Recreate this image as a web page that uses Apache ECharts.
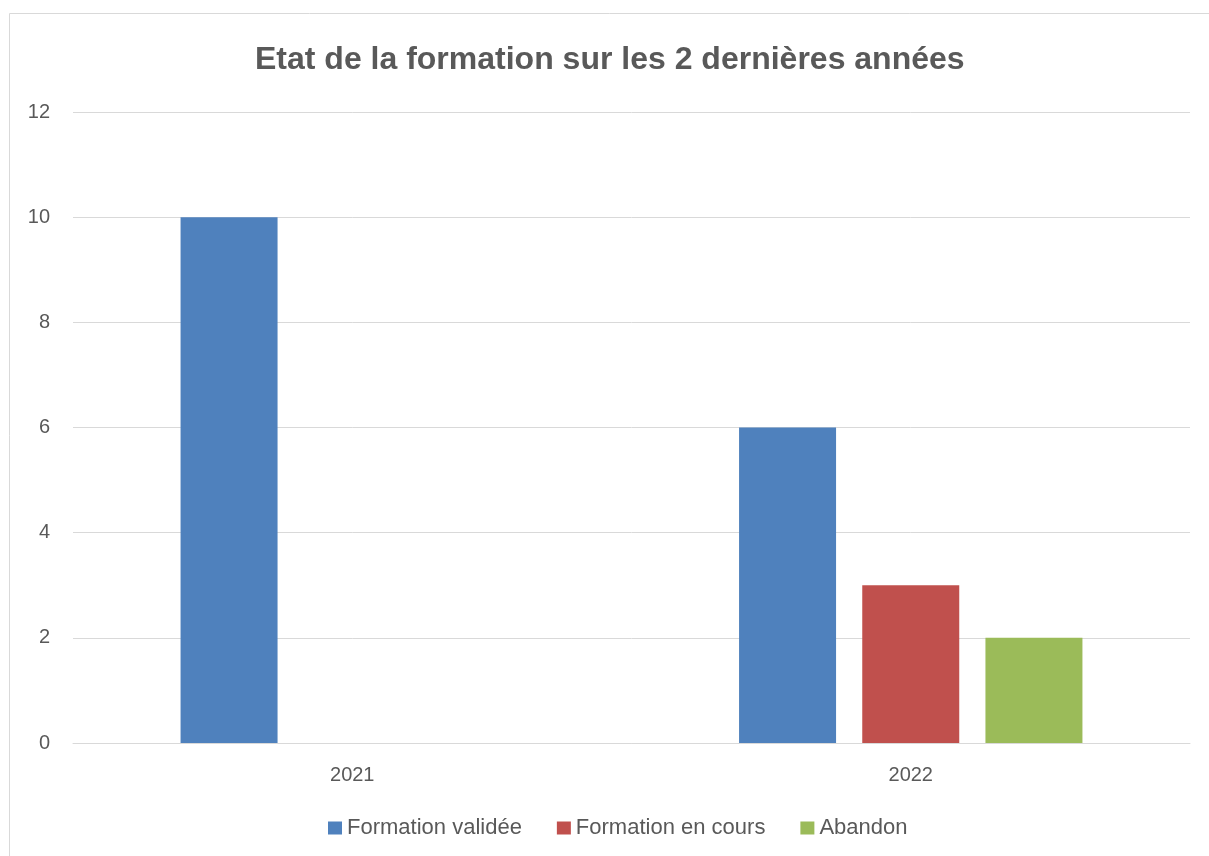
<!DOCTYPE html>
<html style="height: 100%">
  <head>
    <meta charset="utf-8" />
  </head>
  <body style="height: 100%; margin: 0; background: #fff">
    <div id="container" style="width: 1209px; height: 856px"></div>
    <script
      type="text/javascript"
      src="https://cdn.jsdelivr.net/npm/echarts@6.0.0/dist/echarts.min.js"
    ></script>

    <script type="text/javascript">
      var dom = document.getElementById("container");
      var myChart = echarts.init(dom);

      let years = ["2021", "2022"];
      let validee = [10, 6];
      let enCours = [0, 3];
      let abandon = [0, 2];
      let seriesNames = ["Formation validée", "Formation en cours", "Abandon"];
      let colors = ["#4f81bd", "#c0504d", "#9bbb59"];

      let textColor = "#595959";
      let font = "Liberation Sans";

      function bar(name, data, color) {
        return {
          name: name,
          type: "bar",
          data: data,
          barWidth: 97,
          barGap: "27%",
          itemStyle: { color: color },
        };
      }

      let option = {
        animation: false,
        title: {
          text: "Etat de la formation sur les 2 dernières années",
          left: 250,
          top: 39,
          textStyle: {
            fontFamily: font,
            fontSize: 32,
            fontWeight: "bold",
            color: textColor,
          },
        },
        graphic: [
          {
            type: "rect",
            shape: { x: 9.5, y: 13.5, width: 1220, height: 860 },
            style: { fill: null, stroke: "#d9d9d9", lineWidth: 1 },
            silent: true,
          },
        ],
        grid: { left: 73, right: 19, top: 112, bottom: 113 },
        legend: {
          bottom: 12,
          left: 323,
          itemWidth: 14,
          itemHeight: 13,
          itemGap: 35,
          icon: "rect",
          textStyle: { fontFamily: font, fontSize: 22, color: textColor },
          data: seriesNames,
        },
        xAxis: {
          type: "category",
          data: years,
          axisTick: { show: false },
          axisLine: { lineStyle: { color: "#d9d9d9", width: 1 } },
          axisLabel: {
            margin: 22,
            fontFamily: font,
            fontSize: 20,
            color: textColor,
          },
        },
        yAxis: {
          type: "value",
          min: 0,
          max: 12,
          interval: 2,
          axisLine: { show: false },
          axisTick: { show: false },
          splitLine: { lineStyle: { color: "#d9d9d9", width: 1 } },
          axisLabel: {
            margin: 23,
            fontFamily: font,
            fontSize: 20,
            color: textColor,
          },
        },
        series: [
          bar(seriesNames[0], validee, colors[0]),
          bar(seriesNames[1], enCours, colors[1]),
          bar(seriesNames[2], abandon, colors[2]),
        ],
      };

      myChart.setOption(option);
    </script>
  </body>
</html>
